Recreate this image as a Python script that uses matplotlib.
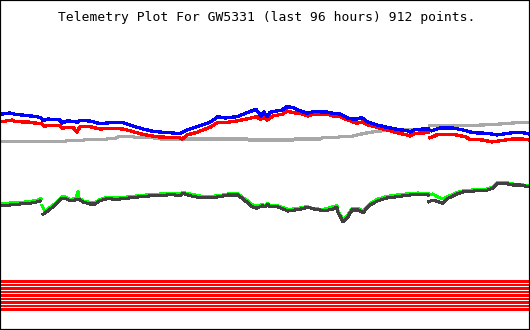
import numpy as np
import matplotlib
matplotlib.use('Agg')
from matplotlib import pyplot as plt

nan = np.nan

title = 'Telemetry Plot For GW5331 (last 96 hours) 912 points.'

# values, in screen rows (0 = top, 330 = bottom)
blue_x = [0, 10, 15, 25, 37, 41, 43, 48, 60, 62, 67, 75, 77, 80, 90, 100, 110, 123, 128, 133, 143, 153, 167,
          170, 180, 187, 197, 210, 218, 225, 237, 247, 256, 261, 264, 267, 270, 273, 282, 287, 292, 300,
          307, 313, 327, 333, 340, 348, 355, 362, 367, 377, 387, 397, 407, 410, 415, 428, nan,
          432, 440, 453, 463, 473, 487, 497, 503, 513, 523, 529]
blue_y = [114.3, 113, 114.3, 115.3, 116.7, 117.7, 120.7, 119, 120, 123, 121, 121.3, 122.3, 120.3, 121, 123.7,
          122.7, 122.7, 124.3, 126, 129, 131.3, 132.7,
          132.7, 133.7, 130, 126.7, 122.3, 116.7, 118, 116.7, 112.7, 109.3, 116, 112, 116.7, 112.3, 111.7,
          110, 106.7, 107.3, 110.7,
          113.3, 111.7, 112, 113.3, 114, 118.3, 119.3, 117.7, 121.7, 125, 127.3, 129.3, 130.7, 132, 129.3,
          129, nan,
          130.7, 128, 128, 130, 132.7, 133.3, 135, 134, 132.7, 132.7, 134]

red_x = [0, 12, 15, 28, 35, 42, 44, 50, 60, 62, 67, 73, 77, 80, 90, 100, 110, 123, 130, 140, 150, 160,
         170, 180, 182, 187, 197, 210, 218, 227, 237, 250, 256, 261, 264, 267, 273, 283, 287, 293, 303,
         308, 313, 327, 333, 340, 348, 357, 362, 368, 377, 387, 397, 407, 410, 415, 428, nan,
         430, 433, 438, 453, 465, 470, 483, 492, 500, 513, 523, 529]
red_y = [122, 120, 121.7, 122, 123, 123.7, 126.3, 125.3, 125.7, 128, 127.7, 127.3, 132.3, 126.7, 126.7,
         129, 128.3, 129, 130.7, 133.7, 135.7, 137,
         137.3, 137.7, 139.3, 135, 132.3, 127.3, 122.3, 122.3, 121, 118.3, 116.7, 119.3, 116.7, 120, 116,
         114, 111, 112.7, 114,
         116, 114, 114, 116, 116.7, 120, 123.3, 122, 125, 127.3, 130, 132.7, 135, 136, 133.3, 132.7, nan,
         137.7, 136.7, 134.3, 134.3, 136.7, 139.3, 140, 142, 140.7, 139, 139, 140]

gray_x = [0, 65, 67, 83, 85, 107, 108, 116, 118, 133, 135, 153, 155, 170, 190, 247, 249, 293, 295, 320,
          322, 338, 340, 350, 360, 370, 383, 400, 429, nan, 430, 450, 483, 500, 517, 529]
gray_y = [141.7, 141.7, 140.7, 140.7, 139.3, 139.3, 138.3, 138.3, 136.7, 136.7, 137.7, 137.7, 138.7,
          139.3, 139, 139, 140, 140, 139, 139,
          137.7, 137.7, 136.7, 136.7, 134.3, 132.3, 130.7, 130, 129.3, nan, 125.7, 126, 125, 124, 122.7, 122.3]

dark_x = [0, 10, 20, 30, 38, 40, nan, 43, 50, 57, 62, 65, 70, 75, 79, 83, 90, 95, 100, 107, 117, 127, 140,
          153, 167, 173, 180, 183, 190, 200, 210, 220, 228, 238, 242, 247, 252, 257, 262, 265, 268, 270,
          277, 283, 288, 293, 300, 308, 315, 325, 332, 337, 338, 343, 347, 352, 358, 363, 370, 378, 387,
          397, 410, 418, 428, nan, 429, 433, 443, 448, 457, 463, 477, 485, 493, 497, 505, 513, 520, 529]
dark_y = [206, 205, 204, 203.3, 201.7, 201, nan, 214.3, 209.3, 203.3, 198.3, 198.3, 200.7, 200, 199.3, 202,
          204, 204, 200.7, 198.7, 199.3, 198.3, 196.7,
          195.7, 195, 194.7, 195.7, 193.3, 195.7, 197.7, 197.7, 196.7, 195, 195, 198.3, 202.3, 206.7,
          208.3, 205.7, 206.7, 204.3, 206.7,
          206.7, 209, 211, 210.3, 209.3, 207.3, 209.3, 210.7, 209.3, 207.3, 212.7, 221.7, 218.3, 210,
          210, 212.7, 205, 200.7, 198,
          196.7, 195, 194.3, 195, nan, 201.7, 200, 203.3, 198.3, 194, 192, 190.7, 190.7, 188.3, 184, 183.3,
          185, 185, 186.7]

green_x = [0, 10, 20, 30, 38, 41, nan, 42, 45, 50, 57, 62, 65, 70, 76, 78, 79, 83, 90, 95, 100, 107, 117,
           127, 140, 153, 167, 180, 183, 190, 200, 210, 220, 228, 238, 242, 247, 252, 257, 262, 265, 268,
           270, 277, 283, 288, 293, 300, 307, 313, 323, 332, 337, 338, 343, 347, 352, 358, 363, 370, 378,
           387, 397, 410, 418, 428, nan, 429, 433, 437, 443, 448, 457, 463, 477, 485, 493, 497, 505, 513,
           520, 529]
green_y = [204, 203, 202.5, 201.5, 200, 198.5, nan, 205.5, 211.5, 207.5, 202, 196.5, 197, 199.5, 198.5,
           191.5, 198, 201, 202.5, 202.5, 199.5, 197.5, 198,
           197, 195.5, 194.5, 193.5, 194, 192.5, 194, 196, 196.5, 195.5, 194, 194, 197, 200.5, 204.5,
           206.5, 204.5, 205.5, 203.5,
           205.5, 205.5, 207.5, 209.5, 209, 208, 206.5, 208.5, 209.5, 207, 205.5, 211, 219.5, 216.5,
           208.5, 208.5, 211, 203.5, 199,
           196.5, 195, 193.5, 193, 193.5, nan, 195, 194, 196.5, 199, 196.5, 192.5, 191, 189.5, 189.5, 187,
           183, 182.5, 184, 184.5, 186]

# red status bands at the bottom (top and bottom row of each band)
stripe_top = [280, 284, 287, 291, 294, 298, 301, 305, 308]
stripe_bot = [283, 286, 290, 293, 297, 300, 304, 307, 311]

PX = 0.72  # points per pixel at dpi 100

fig = plt.figure(figsize=(5.3, 3.3), dpi=100)
ax = fig.add_axes([0, 0, 1, 1])
ax.set_xlim(0, 530)
ax.set_ylim(330, 0)

for t, b in zip(stripe_top, stripe_bot):
    ax.axhspan(t, b, color='#ff0000', lw=0, antialiased=False)

ax.plot(gray_x, gray_y, color='#a8a8a8', lw=2.2 * PX, antialiased=False)
ax.plot(red_x, red_y, color='#ff0000', lw=2.3 * PX, antialiased=False)
ax.plot(blue_x, blue_y, color='#0000ff', lw=2.3 * PX, antialiased=False)
ax.plot(green_x, green_y, color='#00ff00', lw=2.1 * PX, antialiased=False)
ax.plot(dark_x, dark_y, color='#404040', lw=2.1 * PX, antialiased=False)

ax.text(267, 17, title, ha='center', va='center', family='DejaVu Sans Mono', fontsize=9.4)

ax.set_xticks([])
ax.set_yticks([])
for s in ax.spines.values():
    s.set_linewidth(2.2 * PX)
    s.set_color('black')

fig.savefig('out.png', dpi=100)
